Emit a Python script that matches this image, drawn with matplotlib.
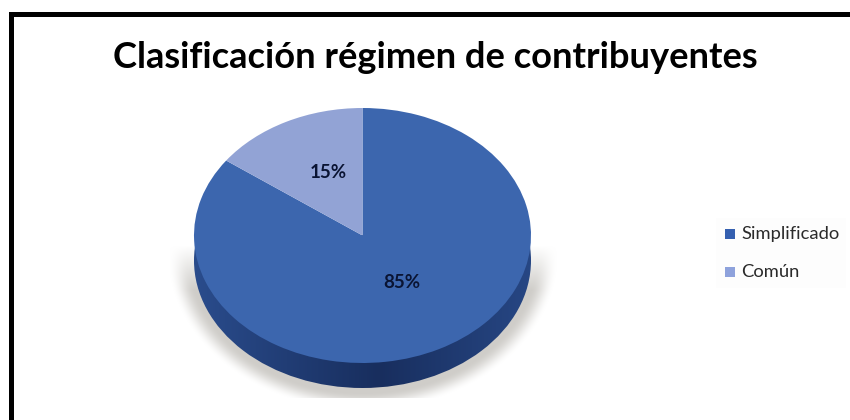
import numpy as np
import matplotlib
matplotlib.use("Agg")
import matplotlib.pyplot as plt
from matplotlib.patches import Rectangle, Ellipse

title = "Clasificación régimen de contribuyentes"
categories = ["Simplificado", "Común"]
values = [85, 15]
labels = ["85%", "15%"]
colors = ["#3C66AE", "#92A3D5"]
legend_colors = ["#3560B0", "#8EA2DC"]

W, H = 850, 420
plt.rcParams["font.family"] = ["Lato", "DejaVu Sans"]
fig = plt.figure(figsize=(W / 100, H / 100), dpi=100, facecolor="white")

# pixel-coordinate background layer
bg = fig.add_axes([0, 0, 1, 1], zorder=0)
bg.set_xlim(0, W)
bg.set_ylim(H, 0)
bg.axis("off")

# frame: only the top and left edges fall inside the picture
bg.add_patch(Rectangle((9, 12), W - 9, 5, fc="black", ec="none", zorder=5))
bg.add_patch(Rectangle((9, 12), 5, H - 12, fc="black", ec="none", zorder=5))

# geometry of the pie's top face
cx, cy, rx, ry = 362.5, 235.5, 168.5, 127.5
depth = 25

# soft shadow, cut off at its lower edge
xx, yy = np.meshgrid(np.arange(170, 560), np.arange(245, 398))
d = np.sqrt(((xx - cx) / (rx + 20)) ** 2 + ((yy - (cy + depth - 8)) / (ry + 24)) ** 2)
a = np.clip((1.04 - d) / 0.12, 0, 1)
a = a * a * (3 - 2 * a) * np.clip((yy - 245) / 45, 0, 1)
rgba = np.zeros(xx.shape + (4,))
rgba[..., :3] = np.array([0xCF, 0xCD, 0xC9]) / 255
rgba[..., 3] = a
bg.imshow(rgba, extent=(170, 560, 398, 245), interpolation="bilinear", aspect="auto", zorder=1)
bg.set_xlim(0, W)
bg.set_ylim(H, 0)

# side band gradient, clipped to the lowered ellipse
t = np.linspace(0, 1, 340)
c0 = np.array([0x2A, 0x4C, 0x8C])
c1 = np.array([0x18, 0x2E, 0x5E])
mix = np.clip(np.abs(t - 0.55) / 0.55, 0, 1)[..., None]
grad = (c1 + (c0 - c1) * mix) / 255
im = bg.imshow(grad[None, ...], extent=(cx - rx, cx + rx, cy + ry + depth, cy), aspect="auto", zorder=2)
bg.set_xlim(0, W)
bg.set_ylim(H, 0)
clip = Ellipse((cx, cy + depth), 2 * rx, 2 * ry, transform=bg.transData, fc="none", ec="none")
bg.add_patch(clip)
im.set_clip_path(clip)

# pie
ax = fig.add_axes([(cx - rx) / W, 1 - (cy + ry) / H, 2 * rx / W, 2 * ry / H], zorder=1)
ax.pie(values, colors=colors, startangle=90, counterclock=False, radius=1,
       wedgeprops={"linewidth": 0})
ax.set_aspect("auto")
ax.set_xlim(-1, 1)
ax.set_ylim(-1, 1)
ax.patch.set_alpha(0)

# texts in pixel positions
fg = fig.add_axes([0, 0, 1, 1], zorder=2)
fg.set_xlim(0, W)
fg.set_ylim(H, 0)
fg.axis("off")
fg.text(435, 57, title, ha="center", va="center", fontsize=26.1, fontweight="bold", color="black")
fg.text(402, 283, labels[0], ha="center", va="center", fontsize=13.5, fontweight="bold", color="#0A1433")
fg.text(328, 172, labels[1], ha="center", va="center", fontsize=13.5, fontweight="bold", color="#0A1433")

# legend
fg.add_patch(Rectangle((716, 218), 130, 70, fc="#FDFDFD", ec="none"))
for name, col, y in zip(categories, legend_colors, [234, 272]):
    fg.add_patch(Rectangle((725, y - 5), 10, 10, fc=col, ec="none"))
    fg.text(741, y, name, ha="left", va="center", fontsize=13.2, color="#2A2A2A")

fig.savefig("out.png", dpi=100)
